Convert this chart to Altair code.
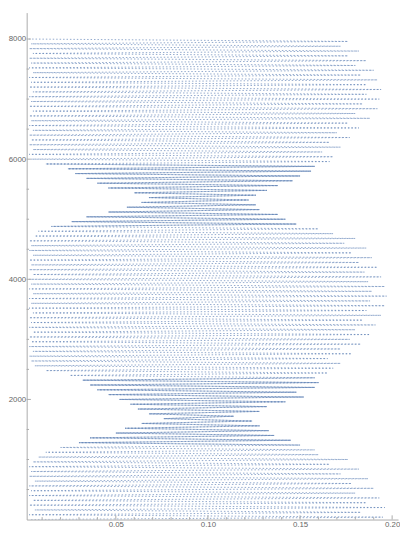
import altair as alt
import pandas as pd

# Turning points of the oscillating trace (y, x)
tip_y = [
    0, 40, 80, 120, 160, 200, 240, 280, 320, 360,
    400, 440, 480, 520, 560, 600, 640, 680, 720, 760,
    800, 840, 880, 920, 960, 1000, 1040, 1080, 1120, 1160,
    1200, 1240, 1280, 1320, 1360, 1400, 1440, 1480, 1520, 1560,
    1600, 1640, 1680, 1720, 1760, 1800, 1840, 1880, 1920, 1960,
    2000, 2040, 2080, 2120, 2160, 2200, 2240, 2280, 2320, 2360,
    2400, 2440, 2480, 2520, 2560, 2600, 2640, 2680, 2720, 2760,
    2800, 2840, 2880, 2920, 2960, 3000, 3040, 3080, 3120, 3160,
    3200, 3240, 3280, 3320, 3360, 3400, 3440, 3480, 3520, 3560,
    3600, 3640, 3680, 3720, 3760, 3800, 3840, 3880, 3920, 3960,
    4000, 4040, 4080, 4120, 4160, 4200, 4240, 4280, 4320, 4360,
    4400, 4440, 4480, 4520, 4560, 4600, 4640, 4680, 4720, 4760,
    4800, 4840, 4880, 4920, 4960, 5000, 5040, 5080, 5120, 5160,
    5200, 5240, 5280, 5320, 5360, 5400, 5440, 5480, 5520, 5560,
    5600, 5640, 5680, 5720, 5760, 5800, 5840, 5880, 5920, 5960,
    6000, 6040, 6080, 6120, 6160, 6200, 6240, 6280, 6320, 6360,
    6400, 6440, 6480, 6520, 6560, 6600, 6640, 6680, 6720, 6760,
    6800, 6840, 6880, 6920, 6960, 7000, 7040, 7080, 7120, 7160,
    7200, 7240, 7280, 7320, 7360, 7400, 7440, 7480, 7520, 7560,
    7600, 7640, 7680, 7720, 7760, 7800, 7840, 7880, 7920, 7960,
    8000,
]
tip_x = [
    0.004, 0.195, 0.003, 0.183, 0.006, 0.196, 0.003, 0.186, 0.005, 0.193,
    0.003, 0.180, 0.004, 0.190, 0.003, 0.178, 0.006, 0.187, 0.003, 0.172,
    0.004, 0.182, 0.003, 0.166, 0.005, 0.176, 0.008, 0.160, 0.012, 0.158,
    0.020, 0.150, 0.030, 0.145, 0.036, 0.136, 0.050, 0.133, 0.055, 0.128,
    0.064, 0.124, 0.076, 0.114, 0.068, 0.128, 0.062, 0.132, 0.058, 0.142,
    0.052, 0.152, 0.046, 0.148, 0.040, 0.158, 0.036, 0.160, 0.032, 0.158,
    0.025, 0.165, 0.012, 0.168, 0.006, 0.172, 0.004, 0.165, 0.003, 0.178,
    0.005, 0.172, 0.003, 0.183, 0.004, 0.177, 0.003, 0.188, 0.005, 0.180,
    0.003, 0.191, 0.004, 0.184, 0.003, 0.194, 0.005, 0.186, 0.003, 0.196,
    0.004, 0.188, 0.003, 0.197, 0.005, 0.189, 0.003, 0.196, 0.004, 0.187,
    0.003, 0.194, 0.005, 0.185, 0.003, 0.192, 0.004, 0.182, 0.003, 0.189,
    0.005, 0.178, 0.003, 0.186, 0.004, 0.174, 0.003, 0.180, 0.006, 0.168,
    0.008, 0.160, 0.015, 0.148, 0.026, 0.142, 0.034, 0.138, 0.046, 0.128,
    0.056, 0.126, 0.064, 0.122, 0.068, 0.126, 0.060, 0.132, 0.046, 0.138,
    0.040, 0.146, 0.034, 0.150, 0.028, 0.156, 0.024, 0.158, 0.012, 0.166,
    0.004, 0.168, 0.003, 0.162, 0.005, 0.172, 0.003, 0.166, 0.004, 0.177,
    0.003, 0.170, 0.005, 0.182, 0.003, 0.176, 0.004, 0.188, 0.003, 0.180,
    0.005, 0.192, 0.003, 0.184, 0.004, 0.193, 0.003, 0.186, 0.005, 0.194,
    0.003, 0.186, 0.004, 0.192, 0.003, 0.183, 0.005, 0.190, 0.003, 0.180,
    0.004, 0.186, 0.003, 0.176, 0.005, 0.182, 0.003, 0.172, 0.004, 0.176,
    0.003,
]

# y-ranges where the trace is drawn as darker, solid loops
node_lo = [1240, 4880]
node_hi = [2360, 5920]

x_major = [0.05, 0.10, 0.15, 0.20]
x_minor = [0.01, 0.02, 0.03, 0.04, 0.06, 0.07, 0.08, 0.09,
           0.11, 0.12, 0.13, 0.14, 0.16, 0.17, 0.18, 0.19]
y_major = [2000, 4000, 6000, 8000]
y_minor = [500, 1000, 1500, 2500, 3000, 3500, 4500, 5000, 5500,
           6500, 7000, 7500]

X_MIN, X_MAX = 0.0016, 0.2032
Y_MIN, Y_MAX = 0, 8440

df = pd.DataFrame({"i": list(range(len(tip_x))), "x": tip_x, "y": tip_y})

xs = alt.Scale(domain=[X_MIN, X_MAX], nice=False, zero=False)
ys = alt.Scale(domain=[Y_MIN, Y_MAX], nice=False, zero=False)

axis_common = dict(title=None, ticks=False, grid=False, labelFontSize=8,
                   labelFont="Liberation Sans", labelColor="#666666",
                   domainColor="#aaaaaa", domainWidth=1)

line = alt.Chart(df).mark_line(color="#5e81b5", strokeWidth=0.8,
                               opacity=0.85, strokeDash=[1.5, 2],
                               clip=True).encode(
    x=alt.X("x:Q", scale=xs,
            axis=alt.Axis(values=x_major, format=".2f", labelPadding=1, **axis_common)),
    y=alt.Y("y:Q", scale=ys,
            axis=alt.Axis(values=y_major, format="d", labelPadding=1, **axis_common)),
    order=alt.Order("i:Q"),
)

node_layers = []
for lo, hi in zip(node_lo, node_hi):
    node_layers.append(
        alt.Chart(df).transform_filter(
            (alt.datum.y >= lo) & (alt.datum.y <= hi)
        ).mark_line(color="#5e81b5", strokeWidth=0.8, opacity=0.55, clip=True).encode(
            x=alt.X("x:Q", scale=xs), y=alt.Y("y:Q", scale=ys), order=alt.Order("i:Q"))
    )

tick_color = "#aaaaaa"
xmaj = alt.Chart(pd.DataFrame({"v": x_major})).mark_rule(color=tick_color, strokeWidth=1).encode(
    x=alt.X("v:Q", scale=xs), y=alt.datum(0), y2=alt.datum(70))
xmin_t = alt.Chart(pd.DataFrame({"v": x_minor})).mark_rule(color=tick_color, strokeWidth=1).encode(
    x=alt.X("v:Q", scale=xs), y=alt.datum(0), y2=alt.datum(40))
ymaj = alt.Chart(pd.DataFrame({"v": y_major})).mark_rule(color=tick_color, strokeWidth=1).encode(
    y=alt.Y("v:Q", scale=ys), x=alt.datum(X_MIN), x2=alt.datum(X_MIN + 0.0023))
ymin_t = alt.Chart(pd.DataFrame({"v": y_minor})).mark_rule(color=tick_color, strokeWidth=1).encode(
    y=alt.Y("v:Q", scale=ys), x=alt.datum(X_MIN), x2=alt.datum(X_MIN + 0.0013))

chart = alt.layer(line, *node_layers, xmaj, xmin_t, ymaj, ymin_t).properties(
    width=378, height=516,
    padding={"left": 0, "top": 0, "right": 0, "bottom": 0},
).configure_view(stroke=None)

chart.save("out.html", embed_options={"renderer": "svg", "actions": False})
